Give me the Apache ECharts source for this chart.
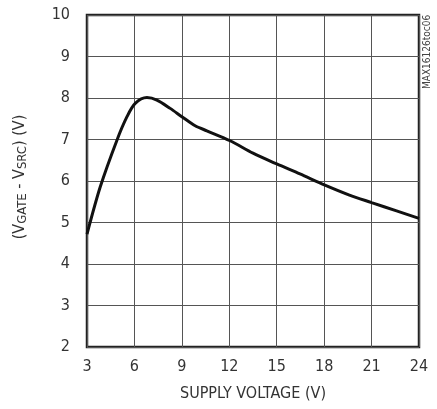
<!DOCTYPE html>
<html>
<head>
<meta charset="utf-8">
<script src="https://cdn.jsdelivr.net/npm/echarts@6/dist/echarts.min.js"></script>
<style>
  html, body { margin: 0; padding: 0; background: #fff; }
  #chart { width: 437px; height: 409px; }
</style>
</head>
<body>
<div id="chart"></div>
<script>
// supply voltage (V) vs gate-source voltage (V)
const supplyV = [3, 3.84, 4.9, 5.53, 6.05, 6.79, 7.42, 8.26, 9.0, 9.84, 10.58, 12.05, 13.5, 15.0, 16.47, 18.05, 19.6, 21.0, 22.58, 24];
const gateV   = [4.72, 5.86, 6.99, 7.55, 7.87, 8.01, 7.95, 7.75, 7.55, 7.33, 7.21, 6.97, 6.67, 6.41, 6.17, 5.9, 5.66, 5.48, 5.28, 5.1];
const xTicks = { min: 3, max: 24, step: 3 };
const yTicks = { min: 2, max: 10, step: 1 };
const partNote = 'MAX16126toc06';

(function () {
  const FONT = '"Liberation Sans Narrow", "DejaVu Sans Condensed", "Liberation Sans", sans-serif';
  const chart = echarts.init(document.getElementById('chart'));
  chart.setOption({
    animation: false,
    grid: {
      left: 87, right: 18, top: 15, bottom: 62,
      show: true, borderColor: '#222', borderWidth: 2.5, backgroundColor: 'transparent',
    },
    xAxis: {
      type: 'value', min: xTicks.min, max: xTicks.max, interval: xTicks.step,
      name: 'SUPPLY VOLTAGE (V)', nameLocation: 'middle', nameGap: 39,
      nameTextStyle: { fontFamily: FONT, fontSize: 16, color: '#333' },
      axisLine: { show: false }, axisTick: { show: false },
      axisLabel: { fontFamily: FONT, fontSize: 16, color: '#333', margin: 12 },
      splitLine: { lineStyle: { color: '#555', width: 1 } },
    },
    yAxis: {
      type: 'value', min: yTicks.min, max: yTicks.max, interval: yTicks.step,
      name: '(V{s|GATE} - V{s|SRC}) (V)', nameLocation: 'middle', nameGap: 58,
      nameTextStyle: {
        fontFamily: FONT, fontSize: 16, color: '#333', padding: [0, 0, 0, 8],
        rich: { s: { fontFamily: FONT, fontSize: 13, color: '#333', padding: [5, 0, 0, 0], verticalAlign: 'bottom' } },
      },
      axisLine: { show: false }, axisTick: { show: false },
      axisLabel: { fontFamily: FONT, fontSize: 16, color: '#333', margin: 17 },
      splitLine: { lineStyle: { color: '#555', width: 1 } },
    },
    graphic: [{
      type: 'text', x: 422, y: 89, rotation: Math.PI / 2,
      style: { text: partNote, fontFamily: FONT, fontSize: 10, fill: '#444', verticalAlign: 'top' },
    }],
    series: [{
      type: 'line', smooth: 0.3, symbol: 'none',
      data: supplyV.map((v, i) => [v, gateV[i]]),
      lineStyle: { color: '#111', width: 3 },
    }],
  });
})();
</script>
</body>
</html>
